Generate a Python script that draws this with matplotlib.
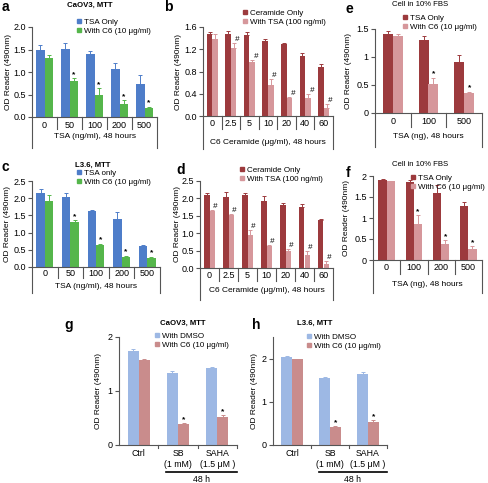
import numpy as np
import matplotlib.pyplot as plt

plt.rcParams['font.family'] = ['Liberation Sans', 'DejaVu Sans']

W, H = 488, 483
fig = plt.figure(figsize=(W / 100, H / 100), dpi=100)

# ---- data ----
a_cats = ['0', '50', '100', '200', '500']
a_tsa = [1.50, 1.51, 1.39, 1.06, 0.73]
a_tsa_err = [0.11, 0.14, 0.08, 0.13, 0.20]
a_c6 = [1.31, 0.81, 0.48, 0.30, 0.19]
a_c6_err = [0.06, 0.05, 0.17, 0.07, 0.04]

b_cats = ['0', '2.5', '5', '10', '20', '40', '60']
b_cer = [1.48, 1.48, 1.46, 1.34, 1.30, 1.07, 0.88]
b_cer_err = [0.03, 0.04, 0.05, 0.05, 0.02, 0.06, 0.05]
b_tsa = [1.39, 1.23, 0.97, 0.56, 0.32, 0.33, 0.15]
b_tsa_err = [0.09, 0.08, 0.04, 0.11, 0.03, 0.06, 0.06]

e_cats = ['0', '100', '500']
e_tsa = [1.41, 1.30, 0.91]
e_tsa_err = [0.05, 0.07, 0.12]
e_c6 = [1.38, 0.51, 0.35]
e_c6_err = [0.03, 0.12, 0.03]

c_cats = ['0', '50', '100', '200', '500']
c_tsa = [2.15, 2.04, 1.63, 1.39, 0.60]
c_tsa_err = [0.12, 0.10, 0.02, 0.21, 0.04]
c_c6 = [1.91, 1.32, 0.63, 0.29, 0.25]
c_c6_err = [0.17, 0.04, 0.05, 0.04, 0.05]

d_cats = ['0', '2.5', '5', '10', '20', '40', '60']
d_cer = [2.09, 2.04, 2.09, 1.92, 1.81, 1.76, 1.37]
d_cer_err = [0.07, 0.14, 0.07, 0.16, 0.06, 0.07, 0.03]
d_tsa = [1.64, 1.51, 0.95, 0.63, 0.50, 0.38, 0.12]
d_tsa_err = [0.04, 0.04, 0.13, 0.04, 0.04, 0.10, 0.07]

f_cats = ['0', '100', '200', '500']
f_tsa = [1.90, 1.86, 1.59, 1.29]
f_tsa_err = [0.02, 0.04, 0.19, 0.08]
f_c6 = [1.88, 0.85, 0.37, 0.27]
f_c6_err = [0.01, 0.21, 0.10, 0.06]

gh_cats = ['Ctrl', 'SB\n(1 mM)', 'SAHA\n(1.5 \u03bcM )']
g_dmso = [1.74, 1.34, 1.43]
g_dmso_err = [0.03, 0.03, 0.02]
g_c6 = [1.58, 0.38, 0.52]
g_c6_err = [0.02, 0.03, 0.03]
h_dmso = [2.04, 1.56, 1.65]
h_dmso_err = [0.02, 0.02, 0.03]
h_c6 = [1.98, 0.41, 0.54]
h_c6_err = [0.02, 0.03, 0.04]

BLUE, GREEN = '#4E7DC9', '#55B64B'
DRED, PINK = '#9C3A3D', '#D6979B'
LBLUE, LPINK = '#9DB8E4', '#C98C8C'
LINE = '#555555'
FS = 5.6    # legend / titles
TFS = 6.5   # ticks, category labels
XFS = 6.0   # axis titles


def px_axes(l, t, r, b, ylab_x):
    ax = fig.add_axes([l / W, 1 - b / H, (r - l) / W, (b - t) / H])
    ax.hpx = b - t
    for s in ['top', 'right']:
        ax.spines[s].set_visible(False)
    for s in ['left', 'bottom']:
        ax.spines[s].set_color(LINE)
        ax.spines[s].set_linewidth(0.8)
    ax.tick_params(axis='y', direction='out', length=3, width=0.8, color=LINE,
                   labelsize=TFS, pad=1.5)
    ax.set_ylabel('OD Reader (490nm)', fontsize=XFS)
    ax.yaxis.set_label_coords((ylab_x - l) / (r - l), 0.5)
    return ax


def draw_bars(ax, n, v1, e1, v2, e2, c1, c2, w, marks=(), sym='*', shift=0.0):
    x = np.arange(n)
    ax.bar(x - w / 2, v1, w, color=c1, zorder=2)
    ax.bar(x + w / 2, v2, w, color=c2, zorder=2)
    ax.errorbar(x - w / 2, v1, yerr=[np.zeros(n), e1], fmt='none', ecolor=c1,
                elinewidth=0.7, capsize=1.4, capthick=0.7, zorder=3)
    ax.errorbar(x + w / 2, v2, yerr=[np.zeros(n), e2], fmt='none', ecolor=c2,
                elinewidth=0.7, capsize=1.4, capthick=0.7, zorder=3)
    for i in marks:
        if sym == '*':
            ax.text(x[i] + w / 2, v2[i] + e2[i], '*', ha='center', va='bottom',
                    fontsize=6, fontweight='bold')
        else:
            ax.text(x[i] + w / 2 + shift, v2[i] + e2[i], '#', ha='center', va='bottom',
                    fontsize=5.8, style='italic')
    ax.set_xlim(-0.5, n - 0.5)
    ax.set_xticks([])


def table_axis(ax, cats, xlabel, cat_off, sep, outer, xlab_off):
    n = len(cats)
    tr = ax.get_xaxis_transform()
    h = ax.hpx
    for xx in [-0.5, n - 0.5]:
        ax.plot([xx, xx], [0, -outer / h], transform=tr, clip_on=False, color=LINE, lw=0.8)
    for i in range(n - 1):
        ax.plot([i + 0.5, i + 0.5], [0, -sep / h], transform=tr, clip_on=False,
                color=LINE, lw=0.8)
    for i, lab in enumerate(cats):
        ax.text(i, -cat_off / h, lab, transform=tr, ha='center', va='center', fontsize=TFS)
    ax.text((n - 1) / 2, -xlab_off / h, xlabel, transform=tr, ha='center', va='center',
            fontsize=XFS)


def legend(ax, labels, colors, x, y):
    handles = [plt.Line2D([], [], ls='none', marker='s', ms=3, color=c) for c in colors]
    ax.legend(handles, labels, loc='upper left', frameon=False, fontsize=FS + 0.2,
              bbox_to_anchor=(x / W, 1 - y / H), bbox_transform=fig.transFigure,
              handlelength=0.6, handletextpad=0.3, labelspacing=0.2, borderpad=0,
              borderaxespad=0)


def fig_text(x, y, s, **kw):
    fig.text(x / W, 1 - y / H, s, **kw)


# ---- panel a ----
ax = px_axes(32, 27, 157, 117, 12)
draw_bars(ax, 5, a_tsa, a_tsa_err, a_c6, a_c6_err, BLUE, GREEN, 0.33, marks=[1, 2, 3, 4])
ax.set_ylim(0, 2.0)
ax.set_yticks(np.arange(0, 2.01, 0.5))
ax.set_yticklabels(['%.1f' % t for t in np.arange(0, 2.01, 0.5)])
table_axis(ax, a_cats, 'TSA (ng/ml), 48 hours', 8, 12, 31, 20)
legend(ax, ['TSA Only', 'With C6 (10 \u03bcg/ml)'], [BLUE, GREEN], 77, 18)
fig_text(90, 5, 'CaOV3, MTT', fontsize=FS, fontweight='bold', ha='center', va='center')
fig_text(2, 7, 'a', fontsize=10, fontweight='bold', ha='left', va='center')

# ---- panel b ----
ax = px_axes(203, 27, 333, 116, 182)
draw_bars(ax, 7, b_cer, b_cer_err, b_tsa, b_tsa_err, DRED, PINK, 0.3,
          marks=range(1, 7), sym='#', shift=0.2)
ax.set_ylim(0, 1.6)
ax.set_yticks(np.arange(0, 1.61, 0.4))
ax.set_yticklabels(['%.1f' % t for t in np.arange(0, 1.61, 0.4)])
table_axis(ax, b_cats, 'C6 Ceramide (\u03bcg/ml), 48 hours', 8, 13, 33, 26)
legend(ax, ['Ceramide Only', 'With TSA (100 ng/ml)'], [DRED, PINK], 243, 9)
fig_text(164, 7, 'b', fontsize=10, fontweight='bold', ha='left', va='center')

# ---- panel e ----
ax = px_axes(375, 29, 482, 113, 352)
draw_bars(ax, 3, e_tsa, e_tsa_err, e_c6, e_c6_err, DRED, PINK, 0.28, marks=[1, 2])
ax.set_ylim(0, 1.5)
ax.set_yticks([0, 0.5, 1, 1.5])
ax.set_yticklabels(['0', '0.5', '1', '1.5'])
table_axis(ax, e_cats, 'TSA (ng), 48 hours', 9, 14, 34, 23)
legend(ax, ['TSA Only', 'With C6 (10 \u03bcg/ml)'], [DRED, PINK], 403, 14)
fig_text(420, 5, 'Cell in 10% FBS', fontsize=FS, ha='center', va='center')
fig_text(345, 9, 'e', fontsize=10, fontweight='bold', ha='left', va='center')

# ---- panel c ----
ax = px_axes(32, 181, 160, 267, 11)
draw_bars(ax, 5, c_tsa, c_tsa_err, c_c6, c_c6_err, BLUE, GREEN, 0.33, marks=[1, 2, 3, 4])
ax.set_ylim(0, 2.5)
ax.set_yticks(np.arange(0, 2.51, 0.5))
ax.set_yticklabels(['%.1f' % t for t in np.arange(0, 2.51, 0.5)])
table_axis(ax, c_cats, 'TSA (ng/ml), 48 hours', 7, 11, 26, 20)
legend(ax, ['TSA only', 'With C6 (10 \u03bcg/ml)'], [BLUE, GREEN], 77, 169)
fig_text(93, 165, 'L3.6, MTT', fontsize=FS, fontweight='bold', ha='center', va='center')
fig_text(2, 167, 'c', fontsize=10, fontweight='bold', ha='left', va='center')

# ---- panel d ----
ax = px_axes(200, 181, 333, 268, 181)
draw_bars(ax, 7, d_cer, d_cer_err, d_tsa, d_tsa_err, DRED, PINK, 0.3,
          marks=range(7), sym='#', shift=0.15)
ax.set_ylim(0, 2.5)
ax.set_yticks(np.arange(0, 2.51, 0.5))
ax.set_yticklabels(['%.1f' % t for t in np.arange(0, 2.51, 0.5)])
table_axis(ax, d_cats, 'C6 Ceramide (\u03bcg/ml), 48 hours', 8, 13, 32, 22)
legend(ax, ['Ceramide Only', 'With TSA (100 ng/ml)'], [DRED, PINK], 240, 166)
fig_text(176, 170, 'd', fontsize=10, fontweight='bold', ha='left', va='center')

# ---- panel f ----
ax = px_axes(373, 176, 482, 260, 350)
draw_bars(ax, 4, f_tsa, f_tsa_err, f_c6, f_c6_err, DRED, PINK, 0.3, marks=[1, 2, 3])
ax.set_ylim(0, 2)
ax.set_yticks([0, 0.5, 1, 1.5, 2])
ax.set_yticklabels(['0', '0.5', '1', '1.5', '2'])
table_axis(ax, f_cats, 'TSA (ng), 48 hours', 8, 14, 33, 25)
legend(ax, ['TSA Only', 'With C6 (10 \u03bcg/ml)'], [DRED, PINK], 411, 174)
fig_text(420, 164, 'Cell in 10% FBS', fontsize=FS, ha='center', va='center')
fig_text(346, 173, 'f', fontsize=10, fontweight='bold', ha='left', va='center')


# ---- panels g, h ----
def gh_panel(rect, ylab_x, dmso, dmso_err, c6, c6_err, ymax, title, tx, letter, lx, lg):
    ax = px_axes(*rect, ylab_x)
    draw_bars(ax, 3, dmso, dmso_err, c6, c6_err, LBLUE, LPINK, 0.28, marks=[1, 2])
    ax.set_ylim(0, ymax)
    ax.set_yticks([0, 1, 2])
    ax.set_yticklabels(['0', '1', '2'])
    tr = ax.get_xaxis_transform()
    h = ax.hpx
    for xx in [0.5, 1.5, 2.5]:
        ax.plot([xx, xx], [0, -3 / h], transform=tr, clip_on=False, color=LINE, lw=0.8)
    for i, lab in enumerate(gh_cats):
        ax.text(i, -4 / h, lab, transform=tr, ha='center', va='top', fontsize=XFS + 0.3,
                linespacing=1.35)
    ax.plot([0.7, 2.5], [-27 / h, -27 / h], transform=tr, clip_on=False, color='black', lw=1.2)
    ax.text(1.6, -34 / h, '48 h', transform=tr, ha='center', va='center', fontsize=XFS + 0.3)
    legend(ax, ['With DMSO', 'With C6 (10 \u03bcg/ml)'], [LBLUE, LPINK], *lg)
    fig_text(tx, 323, title, fontsize=FS, fontweight='bold', ha='center', va='center')
    fig_text(lx, 325, letter, fontsize=10, fontweight='bold', ha='left', va='center')
    return ax


gh_panel((119, 337, 237, 445), 102, g_dmso, g_dmso_err, g_c6, g_c6_err, 2.0,
         'CaOV3, MTT', 183, 'g', 64, (155, 332))
gh_panel((273, 337, 387, 445), 258, h_dmso, h_dmso_err, h_c6, h_c6_err, 2.5,
         'L3.6, MTT', 315, 'h', 252, (307, 333))

fig.savefig('out.png', dpi=100, facecolor='white')
